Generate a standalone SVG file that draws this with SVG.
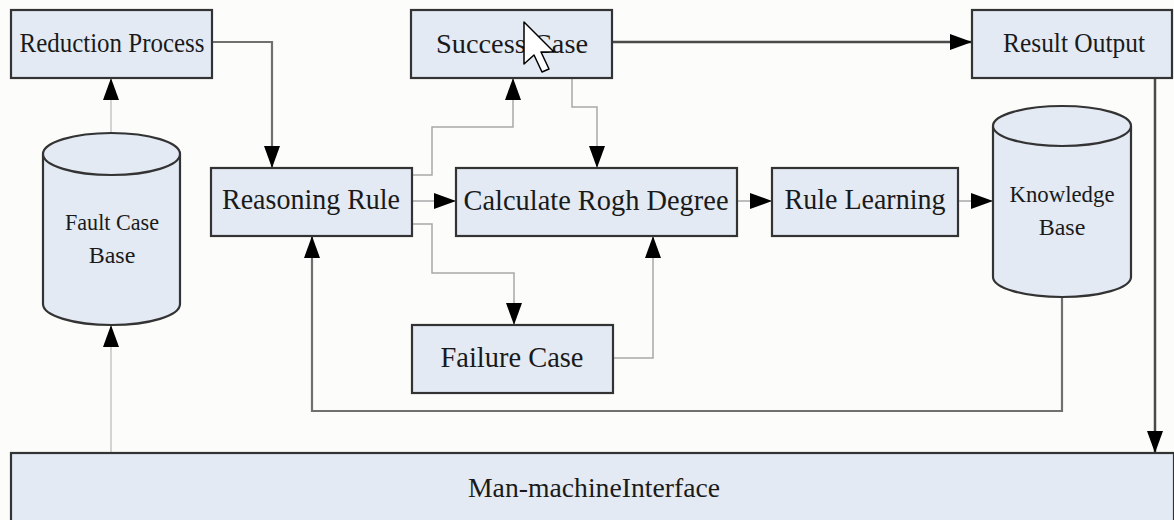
<svg xmlns="http://www.w3.org/2000/svg" width="1174" height="520" viewBox="0 0 1174 520">
<style>
.box{fill:#e3eaf4;stroke:#333;stroke-width:2.2}
.t{font-family:"Liberation Serif","Times New Roman",serif;fill:#1a1a1a;text-anchor:middle}
.dark{fill:none;stroke:#4a4a4a;stroke-width:2.5}
.mid{fill:none;stroke:#707070;stroke-width:2.2}
.light{fill:none;stroke:#a8a8a8;stroke-width:1.5}
.faint{fill:none;stroke:#b8b8b8;stroke-width:1.2}
</style>
<defs>
<marker id="ah" markerUnits="userSpaceOnUse" markerWidth="22" markerHeight="16" refX="22" refY="8" orient="auto">
<path d="M0,0 L22,8 L0,16 z" fill="#000"/>
</marker>
</defs>
<rect x="0" y="0" width="1174" height="520" fill="#fcfcfa"/>

<g id="connectors">
<path class="mid" d="M212,42 H272 V168" marker-end="url(#ah)"/>
<path class="faint" d="M111,133 V78" marker-end="url(#ah)"/>
<path class="faint" d="M111,453 V325" marker-end="url(#ah)"/>
<path class="light" d="M412,175 H432 V127 H513 V78" marker-end="url(#ah)"/>
<path class="light" d="M412,201 H456" marker-end="url(#ah)"/>
<path class="light" d="M412,224 H432 V273 H514 V325" marker-end="url(#ah)"/>
<path class="light" d="M572,78 V107 H597 V168" marker-end="url(#ah)"/>
<path class="light" d="M613,358 H653 V236" marker-end="url(#ah)"/>
<path class="light" d="M737,201 H772" marker-end="url(#ah)"/>
<path class="light" d="M958,201 H993" marker-end="url(#ah)"/>
<path class="mid" d="M1062,297 V411 H312 V236" marker-end="url(#ah)"/>
<path class="dark" d="M612,42 H972" marker-end="url(#ah)"/>
<path class="dark" d="M1155,78 V453" marker-end="url(#ah)"/>
</g>

<g id="reduction-process">
<rect class="box" x="11" y="10" width="201" height="68"/>
<text class="t" x="112" y="52" font-size="27" textLength="185" lengthAdjust="spacingAndGlyphs">Reduction Process</text>
</g>
<g id="success-case">
<rect class="box" x="411" y="10" width="201" height="68"/>
<text class="t" x="512" y="53" font-size="28" textLength="152" lengthAdjust="spacingAndGlyphs">Success Case</text>
</g>
<g id="result-output">
<rect class="box" x="972" y="10" width="200" height="68"/>
<text class="t" x="1074" y="52" font-size="27" textLength="142" lengthAdjust="spacingAndGlyphs">Result Output</text>
</g>
<g id="fault-case-base">
<path class="box" d="M43,154 V304 A68.5,21 0 0 0 180,304 V154"/>
<ellipse class="box" cx="111.5" cy="154" rx="68.5" ry="21"/>
<text class="t" x="112" y="230" font-size="24" textLength="94" lengthAdjust="spacingAndGlyphs">Fault Case</text>
<text class="t" x="112" y="263" font-size="24">Base</text>
</g>
<g id="reasoning-rule">
<rect class="box" x="211" y="168" width="201" height="68"/>
<text class="t" x="311" y="209" font-size="29" textLength="178" lengthAdjust="spacingAndGlyphs">Reasoning Rule</text>
</g>
<g id="calculate-rogh-degree">
<rect class="box" x="456" y="168" width="281" height="68"/>
<text class="t" x="596" y="210" font-size="29" textLength="265" lengthAdjust="spacingAndGlyphs">Calculate Rogh Degree</text>
</g>
<g id="rule-learning">
<rect class="box" x="772" y="168" width="186" height="68"/>
<text class="t" x="865" y="209" font-size="29" textLength="161" lengthAdjust="spacingAndGlyphs">Rule Learning</text>
</g>
<g id="knowledge-base">
<path class="box" d="M993,126 V277 A69,20 0 0 0 1131,277 V126"/>
<ellipse class="box" cx="1062" cy="126" rx="69" ry="20"/>
<text class="t" x="1062" y="202" font-size="24" textLength="105" lengthAdjust="spacingAndGlyphs">Knowledge</text>
<text class="t" x="1062" y="235" font-size="24">Base</text>
</g>
<g id="failure-case">
<rect class="box" x="412" y="325" width="201" height="68"/>
<text class="t" x="512" y="367" font-size="29" textLength="143" lengthAdjust="spacingAndGlyphs">Failure Case</text>
</g>
<g id="man-machine-interface">
<rect class="box" x="11" y="453" width="1163" height="70"/>
<text class="t" x="594" y="497" font-size="28" textLength="252" lengthAdjust="spacingAndGlyphs">Man-machineInterface</text>
</g>
<g id="cursor">
<path d="M524,22 V64 L534,55 L542,72 L549,69 L541,52 L554,52 z" fill="#fff" stroke="#000" stroke-width="1.5" stroke-linejoin="round"/>
</g>
</svg>
